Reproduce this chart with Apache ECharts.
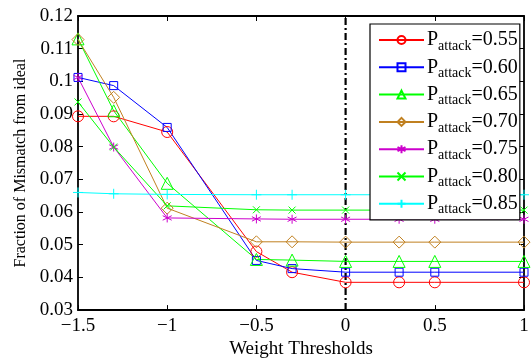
<!DOCTYPE html>
<html><head><meta charset="utf-8">
<script src="https://cdn.jsdelivr.net/npm/echarts@6/dist/echarts.min.js"></script>
<style>html,body{margin:0;padding:0;background:#fff;}#c{width:532px;height:364px;}</style>
</head><body><div id="c"></div>
<script>
const xVals = [-1.5, -1.3, -1, -0.5, -0.3, 0, 0.3, 0.5, 1];
const p055 = [0.0893, 0.0893, 0.0845, 0.0479, 0.0416, 0.0385, 0.0385, 0.0385, 0.0385];
const p060 = [0.1012, 0.0987, 0.0859, 0.0452, 0.0427, 0.0416, 0.0416, 0.0416, 0.0416];
const p065 = [0.1130, 0.0910, 0.0688, 0.0455, 0.0453, 0.0449, 0.0449, 0.0449, 0.0449];
const p070 = [0.1128, 0.0951, 0.0612, 0.0509, 0.0509, 0.0508, 0.0508, 0.0508, 0.0508];
const p075 = [0.1012, 0.0799, 0.0582, 0.0579, 0.0578, 0.0578, 0.0578, 0.0578, 0.0578];
const p080 = [0.0937, 0.0799, 0.0619, 0.0607, 0.0606, 0.0606, 0.0606, 0.0606, 0.0606];
const p085 = [0.0660, 0.0656, 0.0654, 0.0653, 0.0653, 0.0653, 0.0653, 0.0653, 0.0653];
const vlineX = 0;
const seriesNames = ['0.55','0.60','0.65','0.70','0.75','0.80','0.85'];
const seriesData = [p055, p060, p065, p070, p075, p080, p085];
const colors = ['#ff0000','#0000ff','#00ff00','#c08020','#cc00cc','#00ff00','#00ffff'];
const symbols = ['circle','rect','triangle','diamond',
  'path://M0,-1L0,1M-0.87,-0.5L0.87,0.5M-0.87,0.5L0.87,-0.5',
  'path://M-1,-1L1,1M-1,1L1,-1',
  'path://M0,-1L0,1M-1,0L1,0'];
const symSizes = [11, 8, 12, 12, 9, 7, 10];

const font = 'Liberation Serif';
const yMin = 0.03, yMax = 0.12;
const chart = echarts.init(document.getElementById('c'));
const series = [{
  name: 'threshold',
  type: 'line',
  data: [[vlineX, yMin], [vlineX, yMax]],
  showSymbol: false, symbol: 'none',
  lineStyle: {color: '#000', width: 2.2, type: [7, 3, 2, 3]},
  emphasis: {disabled: true},
  z: 1, animation: false
}].concat(seriesNames.map((n, i) => ({
  name: 'P' + n,
  type: 'line',
  data: xVals.map((x, j) => [x, seriesData[i][j]]),
  symbol: symbols[i],
  symbolSize: symSizes[i],
  showSymbol: true,
  lineStyle: {color: colors[i], width: 1},
  itemStyle: {color: 'rgba(0,0,0,0)', borderColor: colors[i], borderWidth: 1},
  emphasis: {disabled: true},
  z: 2, animation: false
})));
const axisCommon = {
  axisLine: {show: true, onZero: false, lineStyle: {color: '#000', width: 1.8}},
  axisTick: {show: true, inside: true, length: 5, lineStyle: {color: '#000', width: 1}},
  splitLine: {show: false}
};
chart.setOption({
  animation: false,
  grid: {left: 78, right: 8, top: 16, bottom: 38},
  xAxis: [
    Object.assign({type: 'value', min: -1.5, max: 1, interval: 0.5, position: 'bottom',
      name: 'Weight Thresholds', nameLocation: 'middle', nameGap: 23,
      nameTextStyle: {fontFamily: font, fontSize: 19, color: '#000'},
      axisLabel: {fontFamily: font, fontSize: 19, color: '#000', margin: 6,
        formatter: v => String(v).replace('-', '\u2212')}}, axisCommon),
    Object.assign({type: 'value', min: -1.5, max: 1, interval: 0.5, position: 'top',
      axisLabel: {show: false}}, axisCommon)
  ],
  yAxis: [
    Object.assign({type: 'value', min: yMin, max: yMax, interval: 0.01, position: 'left',
      name: 'Fraction of Mismatch from ideal', nameLocation: 'middle', nameGap: 41,
      nameTextStyle: {fontFamily: font, fontSize: 16, color: '#000'},
      axisLabel: {fontFamily: font, fontSize: 19, color: '#000', margin: 5,
        formatter: v => String(Math.round(v * 100) / 100)}}, axisCommon),
    Object.assign({type: 'value', min: yMin, max: yMax, interval: 0.01, position: 'right',
      axisLabel: {show: false}}, axisCommon)
  ],
  legend: {
    orient: 'vertical', left: 370, top: 24, width: 147,
    padding: [6, 2, 3, 8], itemGap: 4.3, itemWidth: 45, itemHeight: 10,
    backgroundColor: '#fff', borderColor: '#000', borderWidth: 1.2,
    data: seriesNames.map(n => 'P' + n),
    formatter: name => '{p|P}{s|attack}{p|=' + name.slice(1) + '}',
    textStyle: {
      fontFamily: font, color: '#000', padding: [0, 0, 0, -2],
      rich: {
        p: {fontFamily: font, fontSize: 20, color: '#000'},
        s: {fontFamily: font, fontSize: 14, color: '#000', padding: [12, 0, 0, 0]}
      }
    }
  },
  series: series
});
</script></body></html>
